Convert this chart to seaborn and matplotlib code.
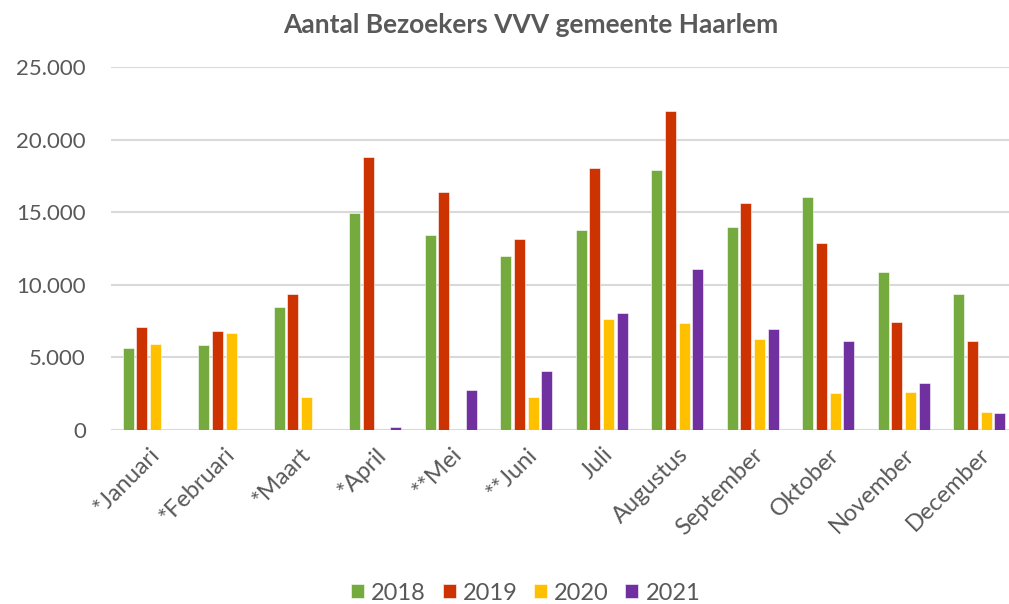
import matplotlib as mpl
import matplotlib.pyplot as plt
import matplotlib.ticker as mticker
import numpy as np
import pandas as pd
import seaborn as sns

sns.set_theme(style="white")
plt.rcParams["font.family"] = ["Lato", "DejaVu Sans"]

# data
maanden = ["*Januari", "*Februari", "*Maart", "*April", "**Mei", "**Juni",
           "Juli", "Augustus", "September", "Oktober", "November", "December"]
jaren = ["2018", "2019", "2020", "2021"]
v2018 = [5680, 5880, 8500, 14970, 13460, 12020, 13785, 17880, 13960, 16070, 10870, 9400]
v2019 = [7070, 6850, 9340, 18820, 16390, 13190, 18040, 21955, 15660, 12910, 7430, 6100]
v2020 = [5950, 6710, 2245, np.nan, np.nan, 2310, 7670, 7395, 6300, 2570, 2590, 1215]
v2021 = [np.nan, np.nan, np.nan, 180, 2750, 4075, 8080, 11100, 6925, 6140, 3210, 1150]
kleuren = ["#75AB3E", "#CC3300", "#FFC000", "#7030A0"]

df = pd.DataFrame({
    "maand": maanden * 4,
    "jaar": np.repeat(jaren, len(maanden)),
    "bezoekers": v2018 + v2019 + v2020 + v2021,
})

grijs = "#595959"
fig = plt.figure(figsize=(10.09, 6.04), dpi=100)
ax = fig.add_axes([0.110, 0.288, 0.898, 0.601])

sns.barplot(df, x="maand", y="bezoekers", hue="jaar", palette=kleuren,
            width=0.725, gap=0.2, saturation=1, ax=ax,
            edgecolor="white", linewidth=0.4)

ax.set_ylim(0, 25000)
ax.set_xlim(-0.5, len(maanden) - 0.5)
ax.yaxis.set_major_locator(mticker.MultipleLocator(5000))
ax.yaxis.set_major_formatter(
    mticker.FuncFormatter(lambda v, p: f"{int(v):,}".replace(",", ".")))
ax.grid(axis="y", color="#D9D9D9", linewidth=1.5)
ax.set_axisbelow(True)
for s in ax.spines.values():
    s.set_visible(False)
ax.tick_params(axis="both", length=0, colors=grijs, labelsize=16)
ax.tick_params(axis="y", pad=18)
ax.tick_params(axis="x", pad=10, labelsize=17)
plt.setp(ax.get_xticklabels(), rotation=45, ha="right", rotation_mode="anchor")
ax.set_xlabel("")
ax.set_ylabel("")

fig.text(0.526, 0.959, "Aantal Bezoekers VVV gemeente Haarlem",
         ha="center", va="center", fontsize=19, fontweight="bold", color=grijs)

ax.legend_.remove()
handles, labels = ax.get_legend_handles_labels()
fig.legend(handles, labels, loc="center", bbox_to_anchor=(0.521, 0.018),
           ncol=4, frameon=False, fontsize=17, labelcolor=grijs,
           handlelength=0.55, handleheight=0.55, handletextpad=0.3,
           columnspacing=0.7)

fig.savefig("out.png", dpi=100)
